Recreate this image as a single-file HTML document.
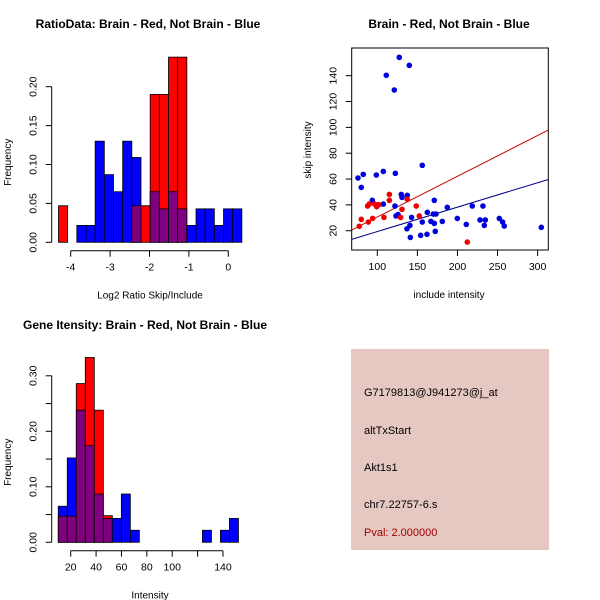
<!DOCTYPE html>
<html><head><meta charset="utf-8">
<style>
html,body{margin:0;padding:0;background:#fff;}
svg{display:block;font-family:"Liberation Sans",sans-serif;}
</style></head>
<body>
<svg id="c" width="600" height="600" viewBox="0 0 600 600">
<rect x="0" y="0" width="600" height="600" fill="#fff"/>
<g>
<rect x="351" y="349" width="198" height="201" fill="#e6c8c2"/>
<text x="364" y="396" font-size="11" fill="#000">G7179813@J941273@j_at</text>
<text x="364" y="434" font-size="11" fill="#000">altTxStart</text>
<text x="364" y="471" font-size="11" fill="#000">Akt1s1</text>
<text x="364" y="508" font-size="11" fill="#000">chr7.22757-6.s</text>
<text x="364" y="536" font-size="11" fill="#a00000">Pval: 2.000000</text>
</g>
</svg>
<script>
// ---- Ratio histogram data ----
const ratioBreakStart = -4.31;
const ratioBinWidth = 0.2327;
const ratioBlue = [0,0,0.0217,0.0217,0.13,0.087,0.065,0.13,0.109,0,0.065,0.043,0.065,0.043,0.0217,0.043,0.043,0.0217,0.043,0.043];
const ratioRed  = [0.047,0,0,0,0,0,0,0,0.047,0.047,0.19,0.19,0.238,0.238,0,0,0,0,0,0];
const ratioYTicks = [0,0.05,0.10,0.15,0.20];
const ratioYLabels = ["0.00","0.05","0.10","0.15","0.20"];
const ratioXTicks = [-4,-3,-2,-1,0];
const ratioXLabels = ["-4","-3","-2","-1","0"];

// ---- Intensity histogram data ----
const intBreakStart = 10.2;
const intBinWidth = 7.1;
const intBlue = [0.065,0.152,0.238,0.174,0.087,0.043,0.043,0.087,0.0217,0,0,0,0,0,0,0,0.0217,0,0.0217,0.043];
const intRed  = [0.047,0.047,0.286,0.333,0.238,0.048,0,0,0,0,0,0,0,0,0,0,0,0,0,0];
const intYTicks = [0,0.05,0.10,0.15,0.20,0.25,0.30];
const intYLabels = ["0.00","","0.10","","0.20","","0.30"];
const intXTicks = [20,40,60,80,100,120,140];
const intXLabels = ["20","40","60","80","100","","140"];

// ---- Scatter data ----
const blueX = [127.4,139.9,111.2,121.2,156.1,75.9,82.5,80.0,98.8,107.5,122.5,93.8,107.5,129.9,137.4,130.8,171.1,122,123.3,125.8,187.3,218.5,231.8,142.8,162.4,169.9,173.2,199.8,181.1,166.9,171.1,156.1,140.7,137,211,228.1,234.7,233.5,252.2,256.3,258.4,304.6,154.1,162,172.3,141.2];
const blueY = [154.2,148,140.3,128.9,70.6,60.8,63.6,53.5,63.1,65.9,64.4,43.5,40.6,48.1,47.4,45.8,43.5,39.1,31.4,32.6,38.1,39.1,39.1,30.3,34.2,32.9,32.9,29.5,27.2,27.2,25.7,26.7,24.1,21.5,24.9,28.3,28.3,24.1,29.5,26.7,23.6,22.6,16.4,17.2,19.5,14.8];
const redX = [77.5,80,87.9,90,88.8,94.2,96.7,99.2,101.7,108.3,115,115,130.8,129.1,137.4,148.6,152.4,212.3];
const redY = [23.4,28.8,39.1,40.6,26.7,29.5,40.6,38.6,40.1,30.3,48.1,43.5,36.5,30.3,44.3,39.1,31.4,11.2];
const redFit = [-0.95,0.3155];   // intercept, slope
const blueFit = [0.44,0.189];
const scXTicks = [100,150,200,250,300];
const scYTicks = [20,40,60,80,100,120,140];

const NS = "http://www.w3.org/2000/svg";
const svg = document.getElementById('c');
function el(tag, attrs, parent, text){
  const e = document.createElementNS(NS, tag);
  for (const k in attrs) e.setAttribute(k, attrs[k]);
  if (text !== undefined) e.textContent = text;
  (parent||svg).appendChild(e);
  return e;
}
function txt(x,y,s,size,parent,extra){
  const a = {x:x,y:y,'font-size':size,'text-anchor':'middle',fill:'#000'};
  if (extra) for (const k in extra) a[k]=extra[k];
  return el('text',a,parent,s);
}

function histogram(cfg){
  const g = el('g',{});
  
  
  const X = v => cfg.x0px + (v - cfg.x0) * cfg.xs;
  const Y = v => cfg.y0px - v * cfg.ys;
  for (let i=0;i<cfg.blue.length;i++){
    const l = X(cfg.start + i*cfg.bw), r = X(cfg.start + (i+1)*cfg.bw);
    const b = cfg.blue[i], rd = cfg.red[i];
    const mx = Math.max(b,rd), mn = Math.min(b,rd);
    if (mx>0){
      const r1 = el('rect',{x:l,y:Y(mx),width:r-l,height:Y(0)-Y(mx),fill:b>=rd?'#0000ff':'#ff0000',stroke:'#000','stroke-width':0.8},g);
      
      
    }
    if (mn>0){
      const r2 = el('rect',{x:l,y:Y(mn),width:r-l,height:Y(0)-Y(mn),fill:'#800080',stroke:'#000','stroke-width':0.8},g);
      
      
    }
  }
  const ax = cfg.yAxisX;
  const yt = cfg.yTicks;
  el('line',{x1:ax,x2:ax,y1:Y(yt[0]),y2:Y(yt[yt.length-1]),stroke:'#000'},g);
  yt.forEach((t,i)=>{
    el('line',{x1:ax-6,x2:ax,y1:Y(t),y2:Y(t),stroke:'#000'},g);
    if (cfg.yLabels[i]){
      const lx = ax-15;
      const tl = txt(lx,Y(t),cfg.yLabels[i],10.5,g,{transform:'rotate(-90 '+lx+' '+Y(t)+')'});
      
      
    }
  });
  const ay = cfg.xAxisY;
  const xt = cfg.xTicks;
  el('line',{x1:X(xt[0]),x2:X(xt[xt.length-1]),y1:ay,y2:ay,stroke:'#000'},g);
  xt.forEach((t,i)=>{
    el('line',{x1:X(t),x2:X(t),y1:ay,y2:ay+6,stroke:'#000'},g);
    if (cfg.xLabels[i]){
      const tl = txt(X(t),ay+20,cfg.xLabels[i],10.5,g);
      
      
    }
  });
  const t1 = txt(cfg.titleX,cfg.titleY,cfg.title,12,g,{'font-weight':'bold'});
  
  
  const t2 = txt(cfg.xlabX,ay+48,cfg.xlab,10,g);
  
  
  const my = cfg.y0px - 80;
  const t3 = txt(11,my,'Frequency',10,g,{transform:'rotate(-90 11 '+my+')'});
  
  
}

histogram({name:'ratio-histogram',blue:ratioBlue,red:ratioRed,start:ratioBreakStart,bw:ratioBinWidth,
  x0:-4,x0px:70.7,xs:39.4,y0px:242.3,ys:778,yAxisX:51.7,xAxisY:250.7,
  yTicks:ratioYTicks,yLabels:ratioYLabels,xTicks:ratioXTicks,xLabels:ratioXLabels,
  title:'RatioData: Brain - Red, Not Brain - Blue',titleX:148,titleY:28,xlab:'Log2 Ratio Skip/Include',xlabX:150});

histogram({name:'intensity-histogram',blue:intBlue,red:intRed,start:intBreakStart,bw:intBinWidth,
  x0:20,x0px:70.7,xs:1.269,y0px:542.3,ys:555,yAxisX:51.7,xAxisY:550.7,
  yTicks:intYTicks,yLabels:intYLabels,xTicks:intXTicks,xLabels:intXLabels,
  title:'Gene Itensity: Brain - Red, Not Brain - Blue',titleX:145,titleY:329,xlab:'Intensity',xlabX:150});

(function(){
  const g = el('g',{});
  
  
  const X = v => 377.3 + (v-100)*0.8016;
  const Y = v => 230.7 - (v-20)*1.2917;
  const L=351.7,R=548.3,T=48,B=250;
  const box = el('rect',{x:L,y:T,width:R-L,height:B-T,fill:'none',stroke:'#000'},g);
  
  
  const cp = el('clipPath',{id:'sc'},g);
  el('rect',{x:L,y:T,width:R-L,height:B-T},cp);
  const xl = (L-377.3)/0.8016+100, xr = (R-377.3)/0.8016+100;
  [[blueFit,'#00008b','blue'],[redFit,'#cc0000','red']].forEach(f=>{
    const ln = el('line',{x1:X(xl),y1:Y(f[0][0]+f[0][1]*xl),x2:X(xr),y2:Y(f[0][0]+f[0][1]*xr),stroke:f[1],'stroke-width':1,'clip-path':'url(#sc)'},g);
    
    
  });
  for (let i=0;i<blueX.length;i++){
    const c = el('circle',{cx:X(blueX[i]),cy:Y(blueY[i]),r:2.8,fill:'#0000dd'},g);
    
    
  }
  for (let i=0;i<redX.length;i++){
    const c = el('circle',{cx:X(redX[i]),cy:Y(redY[i]),r:2.8,fill:'#ee0000'},g);
    
    
  }
  scXTicks.forEach(t=>{
    el('line',{x1:X(t),x2:X(t),y1:B,y2:B+6,stroke:'#000'},g);
    const tl = txt(X(t),B+20,String(t),10.5,g);
    
    
  });
  scYTicks.forEach(t=>{
    el('line',{x1:L-6,x2:L,y1:Y(t),y2:Y(t),stroke:'#000'},g);
    const lx = L-15;
    const tl = txt(lx,Y(t),String(t),10.5,g,{transform:'rotate(-90 '+lx+' '+Y(t)+')'});
    
    
  });
  const t1 = txt(449,28,'Brain - Red, Not Brain - Blue',12,g,{'font-weight':'bold'});
  
  
  const t2 = txt(449,298,'include intensity',10,g);
  
  
  const t3 = txt(311,150,'skip intensity',10,g,{transform:'rotate(-90 311 150)'});
  
  
})();
</script>
</body></html>
